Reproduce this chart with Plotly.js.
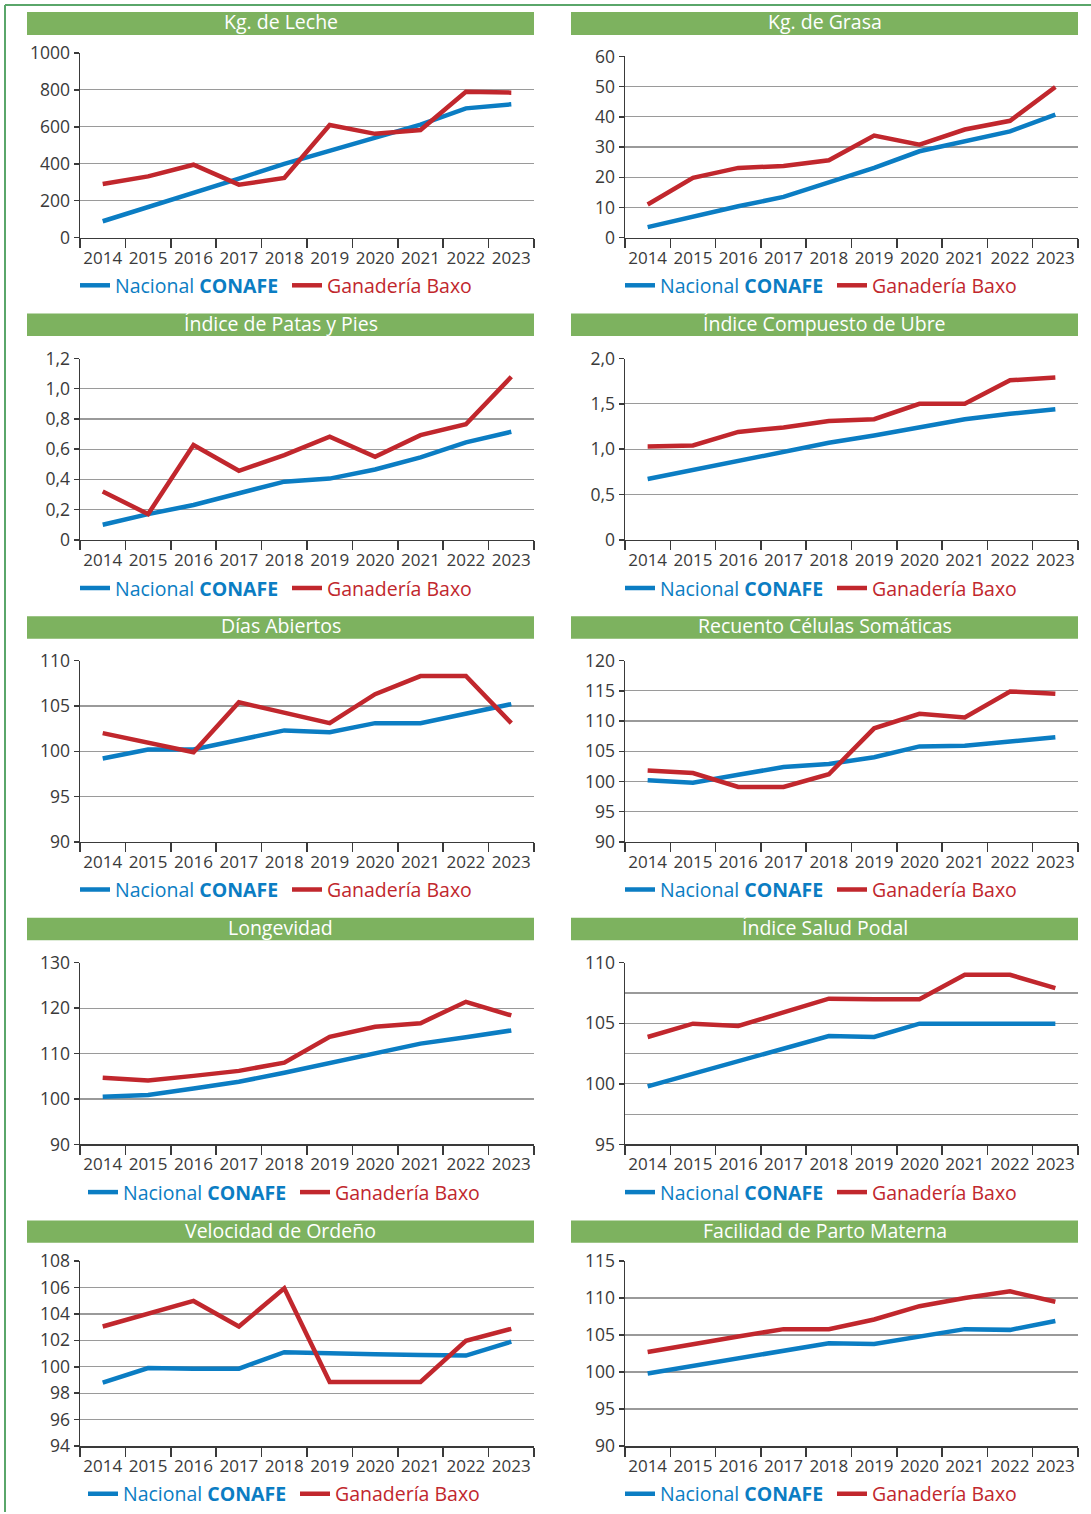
<!DOCTYPE html>
<html><head><meta charset="utf-8">
<script src="https://cdn.plot.ly/plotly-3.0.1.min.js"></script>
<style>html,body{margin:0;padding:0;background:#fff}</style>
</head><body>
<div id="chart" style="width:1091px;height:1514px"></div>
<script>
// ---------------- DATA ----------------
const years = ['2014','2015','2016','2017','2018','2019','2020','2021','2022','2023'];
const seriesNames = ['Nacional <b>CONAFE</b>', 'Ganadería Baxo'];
const panelTitles = ['Kg. de Leche','Kg. de Grasa','Índice de Patas y Pies','Índice Compuesto de Ubre',
  'Días Abiertos','Recuento Células Somáticas','Longevidad','Índice Salud Podal',
  'Velocidad de Ordeño','Facilidad de Parto Materna'];

const nacionalLeche = [89,165,245,320,400,470,545,612,700,722];
const baxoLeche     = [291,332,395,287,323,610,562,583,790,785];
const nacionalGrasa = [3.5,7.1,10.4,13.5,18.2,23.1,28.6,31.9,35.2,40.7];
const baxoGrasa     = [11,19.8,23.1,23.7,25.6,33.8,30.8,35.8,38.7,49.9];
const nacionalPatas = [0.10,0.17,0.23,0.31,0.385,0.405,0.465,0.545,0.645,0.715];
const baxoPatas     = [0.32,0.17,0.627,0.457,0.56,0.682,0.549,0.693,0.765,1.079];
const nacionalUbre  = [0.67,0.77,0.88,0.98,1.07,1.15,1.24,1.33,1.39,1.44];
const baxoUbre      = [1.03,1.04,1.19,1.24,1.31,1.33,1.50,1.50,1.76,1.79];
const nacionalDias  = [99.2,100.2,100.2,101.2,102.3,102.1,103.1,103.1,104.1,105.2];
const baxoDias      = [102.0,101.0,99.9,105.4,104.3,103.1,106.3,108.3,108.3,103.1];
const nacionalRCS   = [100.2,99.8,101.1,102.4,102.9,104.0,105.8,105.9,106.6,107.3];
const baxoRCS       = [101.8,101.4,99.1,99.1,101.2,108.8,111.2,110.6,114.9,114.5];
const nacionalLong  = [100.5,100.9,102.3,103.8,105.8,108.0,110.0,112.2,113.6,115.1];
const baxoLong      = [104.7,104.1,105.1,106.2,108.0,113.7,115.9,116.7,121.4,118.4];
const nacionalPodal = [99.8,100.85,101.9,102.9,103.95,103.87,104.97,104.97,104.97,104.97];
const baxoPodal     = [103.87,104.97,104.78,105.93,107.03,106.98,106.98,109.0,109.0,107.9];
const nacionalVel   = [98.8,99.9,99.86,99.86,101.1,101.0,100.95,100.9,100.85,101.9];
const baxoVel       = [103.05,104.0,104.98,103.05,105.94,98.85,98.85,98.85,101.97,102.87];
const nacionalParto = [99.8,100.8,101.8,102.9,103.9,103.8,104.8,105.8,105.7,106.9];
const baxoParto     = [102.7,103.8,104.8,105.8,105.8,107.1,108.9,110.0,110.9,109.5];

const ticksLeche = [0,200,400,600,800,1000];
const ticksGrasa = [0,10,20,30,40,50,60];
const ticksPatas = [0,0.2,0.4,0.6,0.8,1.0,1.2];
const labelsPatas = ['0','0,2','0,4','0,6','0,8','1,0','1,2'];
const ticksUbre = [0,0.5,1.0,1.5,2.0];
const labelsUbre = ['0','0,5','1,0','1,5','2,0'];
const ticksDias = [90,95,100,105,110];
const ticksRCS = [90,95,100,105,110,115,120];
const ticksLong = [90,100,110,120,130];
const ticksPodal = [95,100,105,110];
const ticksVel = [94,96,98,100,102,104,106,108];
const ticksParto = [90,95,100,105,110,115];

// ---------------- PANELS ----------------
const panels = [
  {n: nacionalLeche, b: baxoLeche, tv: ticksLeche, tt: ticksLeche.map(String)},
  {n: nacionalGrasa, b: baxoGrasa, tv: ticksGrasa, tt: ticksGrasa.map(String)},
  {n: nacionalPatas, b: baxoPatas, tv: ticksPatas, tt: labelsPatas},
  {n: nacionalUbre, b: baxoUbre, tv: ticksUbre, tt: labelsUbre},
  {n: nacionalDias, b: baxoDias, tv: ticksDias, tt: ticksDias.map(String)},
  {n: nacionalRCS, b: baxoRCS, tv: ticksRCS, tt: ticksRCS.map(String)},
  {n: nacionalLong, b: baxoLong, tv: ticksLong, tt: ticksLong.map(String)},
  {n: nacionalPodal, b: baxoPodal, tv: ticksPodal, tt: ticksPodal.map(String), minor: 2.5},
  {n: nacionalVel, b: baxoVel, tv: ticksVel, tt: ticksVel.map(String)},
  {n: nacionalParto, b: baxoParto, tv: ticksParto, tt: ticksParto.map(String)}
];

// ---------------- GEOMETRY / STYLE ----------------
const W = 1091, H = 1514;
const BLUE = '#0b7dc3', RED = '#c1272d', GREEN = '#7db25f', FRAME = '#5aa66a';
const FONT = 'Open Sans, Liberation Sans, sans-serif';
const cols = [[80,534],[625,1078]];
const titleCols = [[27,534],[571,1078]];
const plotRows = [[53,238],[359,540.5],[661.5,843],[964,1146],[1262.7,1448]];
const plotTopAdj = [0,3.5,0,0,0,0,0,0,0,0];
const titleRows = [[12,35],[314,336.5],[617,639.5],[919,941.5],[1222,1244.5]];
const legendY = [286,589,891,1194,1496];
const legendXLeft = [80,80,80,88,88];
const px = v => v / W;
const py = v => 1 - v / H;

const data = [];
const layout = {
  width: W, height: H, margin: {l:0,r:0,t:0,b:0},
  paper_bgcolor: '#fff', plot_bgcolor: 'rgba(0,0,0,0)',
  font: {family: FONT, color: '#3a3a3a', size: 17},
  shapes: [], annotations: []
};

// outer frame (top and left edges)
layout.shapes.push({type:'line', xref:'paper', yref:'paper', x0:px(5), x1:1, y0:py(5), y1:py(5), line:{color:FRAME, width:2}});
layout.shapes.push({type:'line', xref:'paper', yref:'paper', x0:px(5), x1:px(5), y0:py(5), y1:0, line:{color:FRAME, width:2}});

panels.forEach((p, i) => {
  const row = Math.floor(i / 2), col = i % 2;
  const sfx = i === 0 ? '' : String(i + 1);
  const xa = 'xaxis' + sfx, ya = 'yaxis' + sfx;
  const lg = i === 0 ? 'legend' : 'legend' + (i + 1);
  const [top, bot] = plotRows[row];
  const topPx = top + plotTopAdj[i];
  const [cl, cr] = cols[col];

  layout[xa] = {
    domain: [px(cl), px(cr)], anchor: 'y' + sfx, type: 'category',
    range: [-0.5, years.length - 0.5], tickangle: 0, ticklabelstandoff: 4,
    showline: true, linecolor: '#3a3a3a', linewidth: 1.5,
    ticks: 'outside', tickson: 'boundaries', ticklen: 9, tickcolor: '#3a3a3a', tickwidth: 1.5,
    showgrid: false, zeroline: false, fixedrange: true,
    tickfont: {family: FONT, size: 17, color: '#3a3a3a'}
  };
  const yaxis = {
    domain: [py(bot), py(topPx)], anchor: 'x' + sfx,
    range: [p.tv[0], p.tv[p.tv.length - 1]],
    tickmode: 'array', tickvals: p.tv, ticktext: p.tt,
    showline: true, linecolor: '#3a3a3a', linewidth: 1.5,
    ticks: 'outside', ticklen: 5, tickcolor: '#3a3a3a', tickwidth: 1.5,
    showgrid: true, gridcolor: '#9a9a9a', gridwidth: 1.2, zeroline: false, fixedrange: true,
    tickfont: {family: FONT, size: 17.5, color: '#3a3a3a'}
  };
  if (p.minor) {
    yaxis.minor = {dtick: p.minor, tick0: p.tv[0], showgrid: true, gridcolor: '#9a9a9a', gridwidth: 1.2, ticks: ''};
  }
  layout[ya] = yaxis;

  data.push({
    type: 'scatter', mode: 'lines', x: years, y: p.n,
    name: '<span style="color:' + BLUE + '">' + seriesNames[0] + '</span>',
    line: {color: BLUE, width: 4.5}, xaxis: 'x' + sfx, yaxis: 'y' + sfx, legend: lg, hoverinfo: 'skip'
  });
  data.push({
    type: 'scatter', mode: 'lines', x: years, y: p.b,
    name: '<span style="color:' + RED + '">' + seriesNames[1] + '</span>',
    line: {color: RED, width: 4.5}, xaxis: 'x' + sfx, yaxis: 'y' + sfx, legend: lg, hoverinfo: 'skip'
  });

  const lx = col === 0 ? legendXLeft[row] : cl;
  layout[lg] = {
    x: px(lx - 5), xanchor: 'left', y: py(legendY[row]), yanchor: 'middle',
    orientation: 'h', entrywidth: 167, entrywidthmode: 'pixels',
    bgcolor: 'rgba(0,0,0,0)', borderwidth: 0, itemclick: false, itemdoubleclick: false,
    font: {family: FONT, size: 19.5}, tracegroupgap: 0
  };

  // title bar
  const [tl, tr] = titleCols[col];
  const [tt, tb] = titleRows[row];
  layout.shapes.push({type: 'rect', xref: 'paper', yref: 'paper', x0: px(tl), x1: px(tr), y0: py(tb), y1: py(tt),
    fillcolor: GREEN, line: {width: 0}, layer: 'below'});
  layout.annotations.push({xref: 'paper', yref: 'paper', x: px((tl + tr) / 2), y: py((tt + tb) / 2 - 1.5),
    xanchor: 'center', yanchor: 'middle', showarrow: false, text: panelTitles[i],
    font: {family: FONT, size: 19.5, color: '#ffffff'}});
});

Plotly.newPlot('chart', data, layout, {staticPlot: true, displayModeBar: false});
</script>
</body></html>
